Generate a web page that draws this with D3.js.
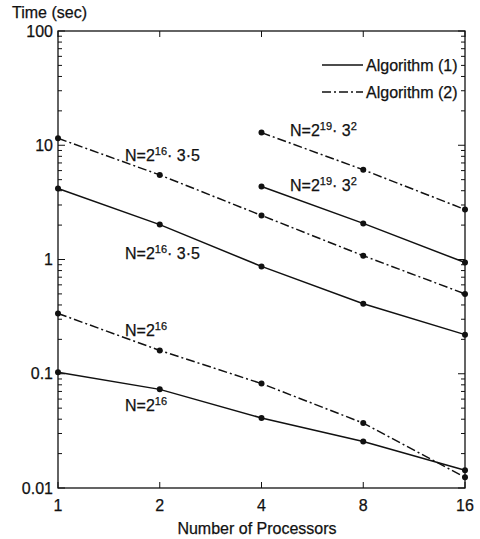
<!DOCTYPE html>
<html>
<head>
<meta charset="utf-8">
<script src="https://cdn.jsdelivr.net/npm/d3@7"></script>
<style>
  body { margin: 0; background: #fff; }
  svg { font-family: "Liberation Sans", Arial, sans-serif; }
  .lbl { font-size: 16px; fill: #111; stroke: #111; stroke-width: 0.25px; }
</style>
</head>
<body>
<div id="chart"></div>
<script>
// data
var processors = [1, 2, 4, 8, 16];
var procs4 = [4, 8, 16];

var alg1_N16_35 = [4.18, 2.02, 0.87, 0.41, 0.22];
var alg2_N16_35 = [11.5, 5.5, 2.43, 1.08, 0.50];
var alg1_N19_9 = [4.35, 2.07, 0.94];
var alg2_N19_9 = [12.9, 6.1, 2.74];
var alg1_N16 = [0.103, 0.073, 0.041, 0.0255, 0.0143];
var alg2_N16 = [0.337, 0.16, 0.082, 0.037, 0.0124];

var yTickLabels = ["0.01", "0.1", "1", "10", "100"];
var yTickValues = [0.01, 0.1, 1, 10, 100];

var svgWidth = 480;
var svgHeight = 539;
var margin = { top: 31, right: 15, bottom: 51, left: 58 };
var width = 465 - margin.left;
var height = 488 - margin.top;

var svg = d3.select("#chart")
    .append("svg")
    .attr("width", svgWidth)
    .attr("height", svgHeight);

var chartGroup = svg.append("g")
    .attr("transform", `translate(${margin.left}, ${margin.top})`);

var x = d3.scaleLog().base(2).domain([1, 16]).range([0, width]);
var y = d3.scaleLog().domain([0.01, 100]).range([height, 0]);

// frame
chartGroup.append("rect")
    .attr("width", width)
    .attr("height", height)
    .attr("fill", "none")
    .attr("stroke", "#111")
    .attr("stroke-width", 1.3);

// y ticks (major + minor), inward on both sides
var minor = [];
for (var d = 0.01; d < 100; d *= 10) {
    for (var k = 1; k < 10; k++) minor.push(d * k);
}
minor.push(100);
minor.forEach(function(v) {
    var major = yTickValues.some(t => Math.abs(t - v) / t < 1e-6);
    var len = major ? 7 : 4;
    chartGroup.append("line")
        .attr("x1", 0).attr("x2", len)
        .attr("y1", y(v)).attr("y2", y(v))
        .attr("stroke", "#111");
    chartGroup.append("line")
        .attr("x1", width).attr("x2", width - len)
        .attr("y1", y(v)).attr("y2", y(v))
        .attr("stroke", "#111");
});

// x ticks, inward top and bottom
processors.forEach(function(v) {
    chartGroup.append("line")
        .attr("x1", x(v)).attr("x2", x(v))
        .attr("y1", height).attr("y2", height - 6)
        .attr("stroke", "#111");
    chartGroup.append("line")
        .attr("x1", x(v)).attr("x2", x(v))
        .attr("y1", 0).attr("y2", 6)
        .attr("stroke", "#111");
});

// tick labels
chartGroup.selectAll(".ylab")
    .data(yTickValues)
    .enter()
    .append("text")
    .attr("class", "lbl")
    .attr("x", -5)
    .attr("y", d => y(d))
    .attr("dy", "0.35em")
    .attr("text-anchor", "end")
    .text((d, i) => yTickLabels[i]);

chartGroup.selectAll(".xlab")
    .data(processors)
    .enter()
    .append("text")
    .attr("class", "lbl")
    .attr("x", d => x(d))
    .attr("y", height + 23)
    .attr("text-anchor", "middle")
    .text(d => d);

// axis titles
svg.append("text")
    .attr("class", "lbl")
    .attr("x", 12)
    .attr("y", 18)
    .text("Time (sec)");

svg.append("text")
    .attr("class", "lbl")
    .attr("x", 257)
    .attr("y", 534)
    .attr("text-anchor", "middle")
    .text("Number of Processors");

// series
var dashDot = "9,3,2,3";
var series = [
    { xs: processors, ys: alg1_N16_35, dash: null },
    { xs: processors, ys: alg2_N16_35, dash: dashDot },
    { xs: procs4, ys: alg1_N19_9, dash: null },
    { xs: procs4, ys: alg2_N19_9, dash: dashDot },
    { xs: processors, ys: alg1_N16, dash: null },
    { xs: processors, ys: alg2_N16, dash: dashDot }
];

var line = d3.line()
    .x(d => x(d[0]))
    .y(d => y(d[1]));

series.forEach(function(s) {
    var pts = s.xs.map((v, i) => [v, s.ys[i]]);
    chartGroup.append("path")
        .datum(pts)
        .attr("d", line)
        .attr("fill", "none")
        .attr("stroke", "#111")
        .attr("stroke-width", 1.5)
        .attr("stroke-dasharray", s.dash);
    chartGroup.selectAll(null)
        .data(pts)
        .enter()
        .append("circle")
        .attr("cx", d => x(d[0]))
        .attr("cy", d => y(d[1]))
        .attr("r", 3)
        .attr("fill", "#111");
});

// curve labels
function nLabel(px, py, exp, rest, restSup) {
    var t = svg.append("text")
        .attr("class", "lbl")
        .attr("x", px)
        .attr("y", py);
    t.append("tspan").text("N=2");
    t.append("tspan").attr("dy", -6).attr("font-size", "11px").text(exp);
    if (rest) {
        t.append("tspan").attr("dy", 6).text(rest);
        if (restSup) {
            t.append("tspan").attr("dy", -6).attr("font-size", "11px").text(restSup);
        }
    }
}
nLabel(125, 161, "16", "\u00b7 3\u00b75");
nLabel(125, 259, "16", "\u00b7 3\u00b75");
nLabel(290, 136, "19", "\u00b7 3", "2");
nLabel(290, 191, "19", "\u00b7 3", "2");
nLabel(125, 336, "16");
nLabel(125, 411, "16");

// legend
var legendItems = [
    { label: "Algorithm (1)", dash: null, yPos: 65 },
    { label: "Algorithm (2)", dash: dashDot, yPos: 92 }
];
legendItems.forEach(function(l) {
    svg.append("line")
        .attr("x1", 322).attr("x2", 363)
        .attr("y1", l.yPos).attr("y2", l.yPos)
        .attr("stroke", "#111")
        .attr("stroke-width", 1.5)
        .attr("stroke-dasharray", l.dash);
    svg.append("text")
        .attr("class", "lbl")
        .attr("x", 366)
        .attr("y", l.yPos)
        .attr("dy", "0.35em")
        .text(l.label);
});
</script>
</body>
</html>
